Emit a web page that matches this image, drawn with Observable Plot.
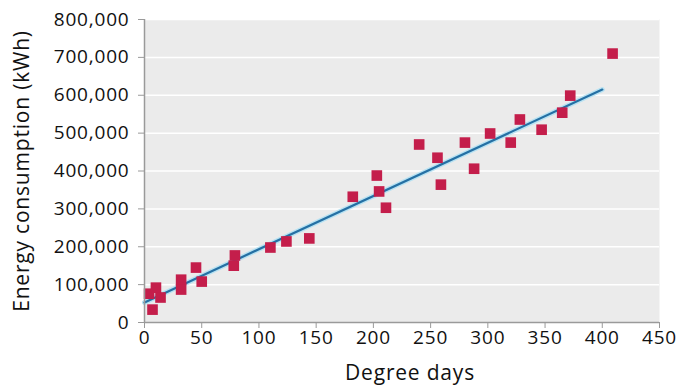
<!DOCTYPE html>
<html><head><meta charset="utf-8">
<script src="https://cdn.jsdelivr.net/npm/d3@7"></script>
<script src="https://cdn.jsdelivr.net/npm/@observablehq/plot@0.6"></script>
<style>body{margin:0;background:#fff}</style>
</head><body><div id="chart"></div>
<script>
const degreeDays = [4, 7, 10, 14, 32, 32, 45, 50, 79, 78, 110, 124, 144, 182, 203, 205, 211, 240, 256, 259, 280, 288, 302, 320, 328, 347, 365, 372, 409];
const energy = [76000, 34000, 92000, 66000, 113000, 87000, 145000, 108000, 177000, 150000, 198000, 214000, 222000, 332000, 388000, 346000, 303000, 470000, 435000, 364000, 475000, 406000, 499000, 475000, 536000, 509000, 554000, 599000, 710000];
const fitX = [0, 400];
const fitY = [53000, 615000];
const xTicks = [0, 50, 100, 150, 200, 250, 300, 350, 400, 450];
const yTicks = [0, 100000, 200000, 300000, 400000, 500000, 600000, 700000, 800000];
const xTitle = "Degree days";
const yTitle = "Energy consumption (kWh)";

const points = degreeDays.map((d, i) => ({x: d, y: energy[i]}));
const fit = fitX.map((d, i) => ({x: d, y: fitY[i]}));

const chart = Plot.plot({
  width: 680, height: 385,
  marginLeft: 144, marginRight: 21, marginTop: 19, marginBottom: 63,
  style: {fontFamily: "'Open Sans', sans-serif", fontSize: "19px", color: "#111", background: "#fff", letterSpacing: "0.8px"},
  x: {domain: [0, 450], ticks: xTicks},
  y: {domain: [0, 800000], ticks: yTicks},
  marks: [
    Plot.frame({fill: "#ebebeb", stroke: null}),
    Plot.gridY(yTicks.slice(1), {stroke: "#fff", strokeOpacity: 1, strokeWidth: 1.5}),
    Plot.line(fit, {x: "x", y: "y", stroke: "#b8e2f2", strokeWidth: 5}),
    Plot.line(fit, {x: "x", y: "y", stroke: "#2570a4", strokeWidth: 2.2}),
    Plot.dot(points, {x: "x", y: "y", symbol: "square", r: 6, fill: "#c41e4b", stroke: null}),
    Plot.ruleY([0], {stroke: "#9a9a9a", strokeWidth: 1.5}),
    Plot.ruleX([0], {stroke: "#9a9a9a", strokeWidth: 1.5}),
    Plot.axisX(xTicks, {tickSize: 6, tickPadding: 2, stroke: "#9a9a9a", fill: "#111", label: null, fontSize: 19}),
    Plot.axisY(yTicks, {tickSize: 6, tickPadding: 9, stroke: "#9a9a9a", fill: "#111", label: null, fontSize: 19, tickFormat: d3.format(",")}),
    Plot.text([xTitle], {frameAnchor: "bottom", dy: 57, dx: 8, text: d => d, fontSize: 21, fill: "#111"}),
    Plot.text([yTitle], {frameAnchor: "left", dx: -122, rotate: -90, textAnchor: "middle", text: d => d, fontSize: 21, fill: "#111"})
  ]
});
document.getElementById("chart").append(chart);
</script>
</body></html>
